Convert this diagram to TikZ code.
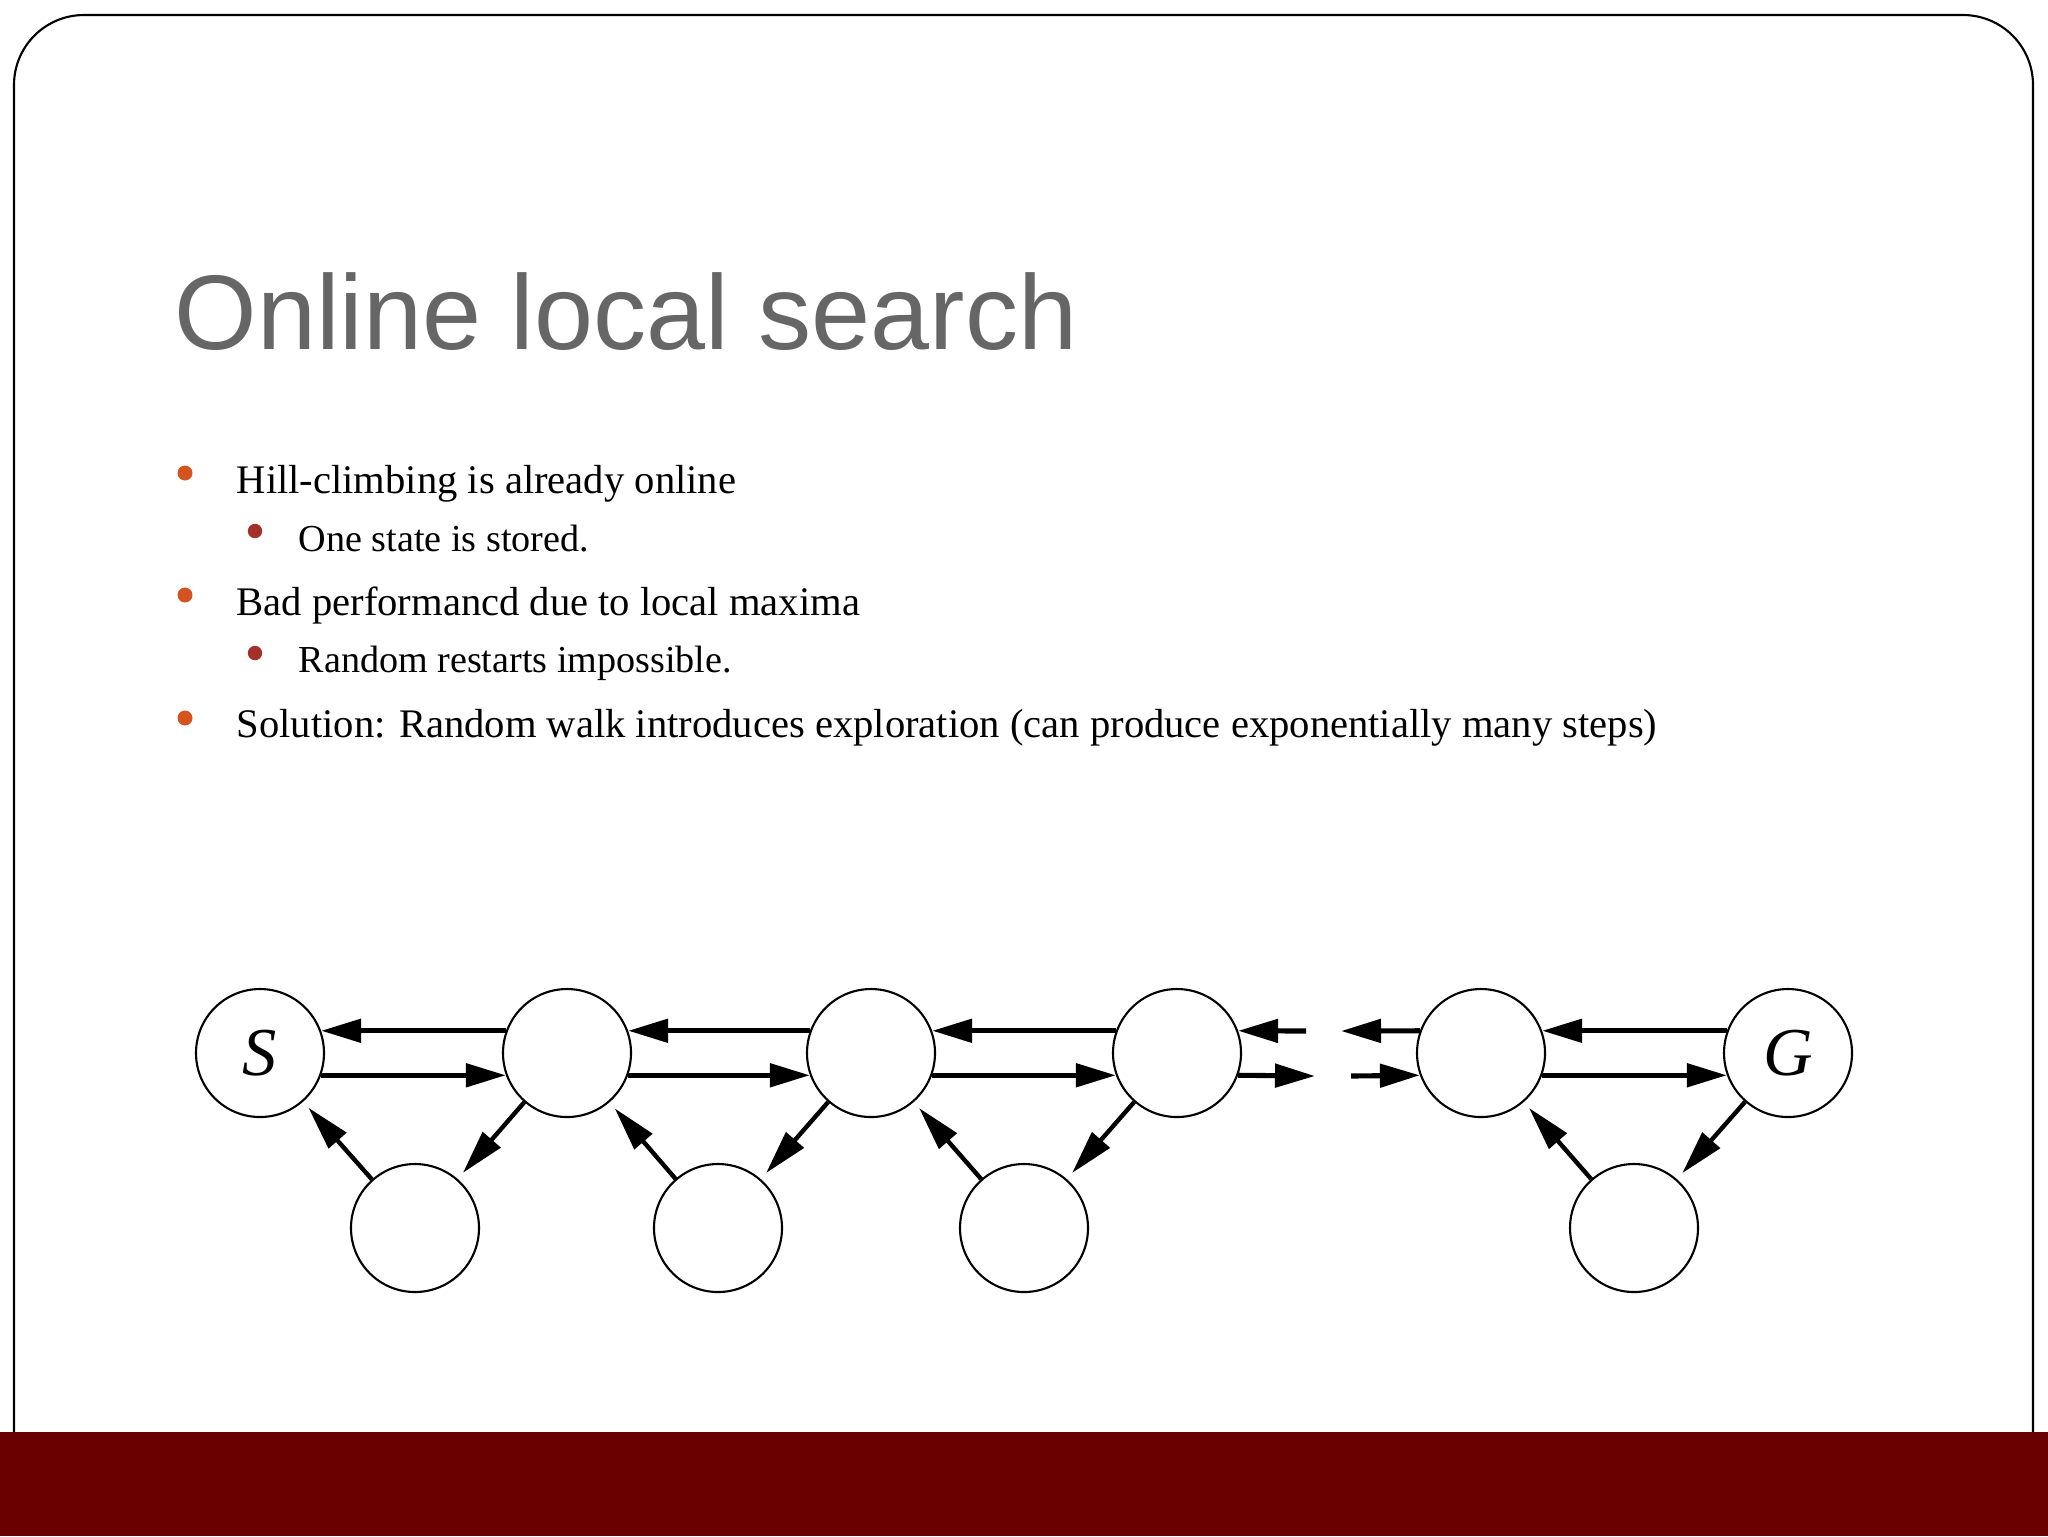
\documentclass[tikz,border=0pt]{standalone}
\usepackage{fontspec}
\setmainfont{Liberation Serif}
\newfontfamily\titlefont{Liberation Sans}
\usetikzlibrary{arrows.meta}
\definecolor{titlegray}{HTML}{666666}
\definecolor{bulletorange}{HTML}{D4531F}
\definecolor{bulletred}{HTML}{A52F29}
\definecolor{bandred}{HTML}{6B0000}

\begin{document}
\begin{tikzpicture}[x=0.1mm, y=-0.1mm,
    state/.style={draw, circle, line width=0.6pt, minimum size=12.8mm, inner sep=0pt,
                  font=\fontsize{19.5}{20}\selectfont\itshape},
    arr/.style={-{Triangle[length=4mm, width=2.3mm]}, line width=1.45pt},
    diag/.style={-{Triangle[length=4.4mm, width=2.3mm]}, line width=1.25pt, shorten >=0.8mm},
    lvlone/.style={anchor=base west, inner sep=0pt, font=\fontsize{11.55}{14}\selectfont},
    lvltwo/.style={anchor=base west, inner sep=0pt, font=\fontsize{10.85}{13}\selectfont}]
        \useasboundingbox (0,0) rectangle (2048,1536);

        % Slide frame and footer band
        \draw[line width=0.6pt, rounded corners=7mm] (14,1432) -- (14,15) -- (2033,15) -- (2033,1432);
        \fill[bandred] (0,1432) rectangle (2048,1536);

        % Title
        \node[anchor=base west, inner sep=0pt, text=titlegray,
              font=\titlefont\fontsize{30.2}{36}\selectfont] (title) at (174,349) {Online local search};

        % Bullet dots
        \fill[bulletorange] (185,473) circle (0.75mm);
        \fill[bulletred] (255,531) circle (0.72mm);
        \fill[bulletorange] (185,595) circle (0.75mm);
        \fill[bulletred] (255,653) circle (0.72mm);
        \fill[bulletorange] (185,718) circle (0.75mm);

        % Bullet texts
        \node[lvlone] (hill) at (236,493) {Hill-climbing is already online};
        \node[lvltwo] (stored) at (298,551) {One state is stored.};
        \node[lvlone] (bad) at (236,615) {Bad performancd due to local maxima};
        \node[lvltwo] (restarts) at (298,672) {Random restarts impossible.};
        \node[lvlone] (solution) at (236,737) {Solution: Random walk introduces exploration (can produce exponentially many steps)};

        % Top row of states
        \node[state] (S) at (260,1053) {S};
        \node[state] (n1) at (567,1053) {};
        \node[state] (n2) at (871,1053) {};
        \node[state] (n3) at (1177,1053) {};
        \node[state] (n4) at (1481,1053) {};
        \node[state] (G) at (1788,1053) {G};

        % Bottom row of states
        \node[state] (b1) at (415,1228) {};
        \node[state] (b2) at (718,1228) {};
        \node[state] (b3) at (1024,1228) {};
        \node[state] (b4) at (1634,1228) {};

        % Back and forth along the top row
        \draw[arr] (n1.160) -- (S.20);
        \draw[arr] (S.340) -- (n1.200);
        \draw[arr] (n2.160) -- (n1.20);
        \draw[arr] (n1.340) -- (n2.200);
        \draw[arr] (n3.160) -- (n2.20);
        \draw[arr] (n2.340) -- (n3.200);
        \draw[arr] (G.160) -- (n4.20);
        \draw[arr] (n4.340) -- (G.200);

        % Broken stretch between n3 and n4
        \coordinate (gapa) at (1306,1031);
        \coordinate (gapb) at (1315,1076);
        \coordinate (gapc) at (1341,1031);
        \coordinate (gapd) at (1351,1076);
        \draw[arr] (gapa) -- (n3.20);
        \draw[arr] (n3.340) -- (gapb);
        \draw[arr] (n4.160) -- (gapc);
        \draw[arr] (gapd) -- (n4.200);

        % Side trips through the bottom row
        \draw[diag] (b1) -- (S);
        \draw[diag] (n1) -- (b1);
        \draw[diag] (b2) -- (n1);
        \draw[diag] (n2) -- (b2);
        \draw[diag] (b3) -- (n2);
        \draw[diag] (n3) -- (b3);
        \draw[diag] (b4) -- (n4);
        \draw[diag] (G) -- (b4);
    \end{tikzpicture}
\end{document}
